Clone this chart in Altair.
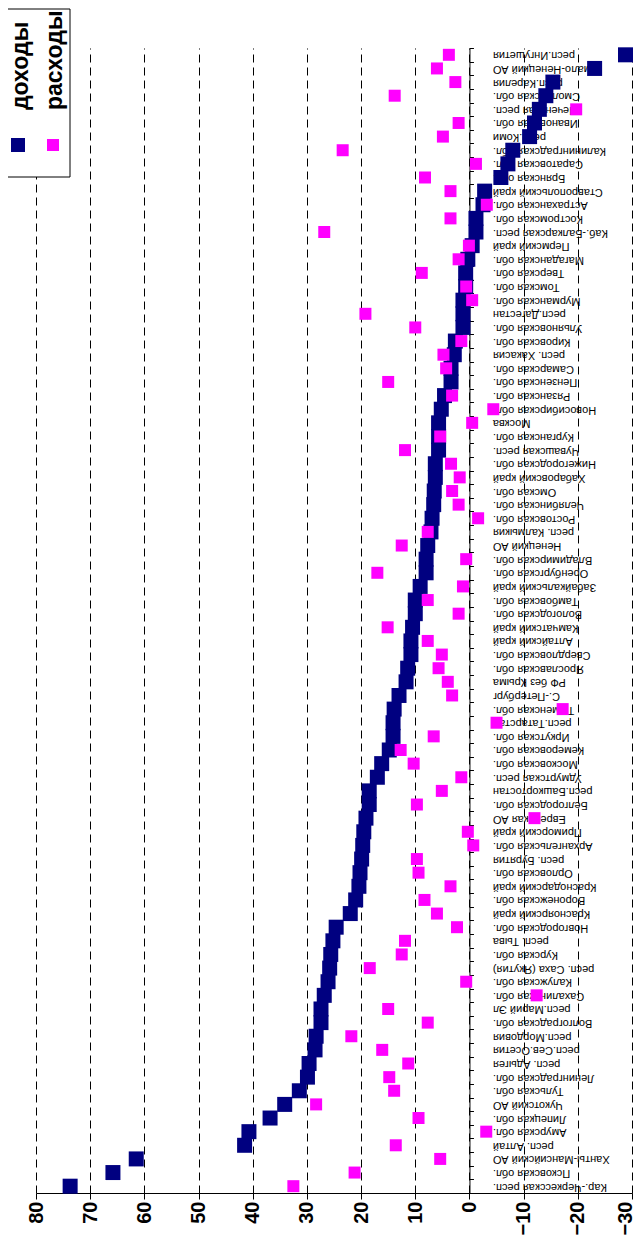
import altair as alt
import pandas as pd

regions = [
    "респ.Ингушетия", "Ямало-Ненецкий АО", "респ.Карелия", "Смоленская обл.",
    "Чеченская респ.", "Ивановская обл.", "респ.Коми", "Калининградская обл.",
    "Саратовская обл.", "Брянская обл.", "Ставропольский край", "Астраханская обл.",
    "Костромская обл.", "Каб.-Балкарская респ.", "Пермский край", "Магаданская обл.",
    "Тверская обл.", "Томская обл.", "Мурманская обл.", "респ.Дагестан",
    "Ульяновская обл.", "Кировская обл.", "респ. Хакасия", "Самарская обл.",
    "Пензенская обл.", "Рязанская обл.", "Новосибирская обл.", "Москва",
    "Курганская обл.", "Чувашская респ.", "Нижегородская обл.", "Хабаровский край",
    "Омская обл.", "Челябинская обл.", "Ростовская обл.", "респ. Калмыкия",
    "Ненецкий АО", "Владимирская обл.", "Оренбургская обл.", "Забайкальский край",
    "Тамбовская обл.", "Вологодская обл.", "Камчатский край", "Алтайский край",
    "Свердловская обл.", "Ярославская обл.", "РФ без Крыма", "С.-Петербург",
    "Тюменская обл.", "респ.Татарстан", "Иркутская обл.", "Кемеровская обл.",
    "Московская обл.", "Удмуртская респ.", "респ.Башкортостан", "Белгородская обл.",
    "Еврейская АО", "Приморский край", "Архангельская обл.", "респ. Бурятия",
    "Орловская обл.", "Краснодарский край", "Воронежская обл.", "Красноярский край",
    "Новгородская обл.", "респ. Тыва", "Курская обл.", "респ. Саха (Якутия)",
    "Калужская обл.", "Сахалинская обл.", "респ.Марий Эл", "Волгоградская обл.",
    "респ.Мордовия", "респ.Сев.Осетия", "респ. Адыгея", "Ленинградская обл.",
    "Тульская обл.", "Чукотский АО", "Липецкая обл.", "Амурская обл.",
    "респ. Алтай", "Ханты-Мансийский АО", "Псковская обл.", "Кар.-Черкесская респ.",
]

dohody = [
    -28.8, -23.1, -15.4, -14.1, -12.9, -12.0, -11.1, -8.0,
    -7.1, -5.8, -2.8, -2.5, -1.2, -1.2, -0.5, 0.3,
    0.7, 0.7, 1.2, 1.2, 1.2, 2.6, 2.8, 3.4,
    3.4, 4.6, 5.2, 5.7, 5.7, 5.7, 6.3, 6.3,
    6.5, 6.6, 6.9, 7.1, 7.7, 8.0, 8.0, 9.1,
    10.0, 10.0, 10.5, 10.8, 10.8, 11.4, 11.7, 13.0,
    13.9, 14.1, 14.1, 14.8, 16.2, 17.0, 18.5, 18.5,
    19.1, 19.5, 19.7, 19.9, 20.2, 20.4, 21.0, 22.0,
    24.6, 25.2, 25.6, 25.8, 26.1, 26.8, 27.4, 27.4,
    28.3, 28.5, 29.6, 29.9, 31.4, 34.1, 36.8, 40.7,
    41.5, 61.5, 65.8, 73.7,
]

rashody = [
    3.8, 6.0, 2.6, 13.8, -19.7, 2.0, 4.9, 23.4,
    -1.2, 8.2, 3.5, -3.2, 3.5, 26.8, 0.1, 2.0,
    8.8, 0.6, -0.5, 19.2, 10.0, 1.5, 4.8, 4.3,
    15.0, 3.2, -4.4, -0.5, 5.4, 11.9, 3.4, 1.8,
    3.2, 2.0, -1.6, 7.7, 12.5, 0.6, 17.0, 1.2,
    7.7, 2.0, 15.1, 7.7, 5.1, 5.7, 4.0, 3.2,
    -17.2, -5.0, 6.6, 12.7, 10.3, 1.5, 5.1, 9.7,
    -12.0, 0.3, -0.7, 9.7, 9.4, 3.5, 8.3, 6.0,
    2.3, 11.9, 12.5, 18.4, 0.6, -12.4, 15.0, 7.7,
    21.8, 16.1, 11.3, 14.8, 13.9, 28.3, 9.4, -3.1,
    13.6, 5.4, 21.2, 32.5,
]

tick_values = [80, 70, 60, 50, 40, 30, 20, 10, 0, -10, -20, -30]
series_names = ["доходы", "расходы"]
series_colors = ["#000080", "#FF00FF"]

df = pd.DataFrame({"region": regions, "dohody": dohody, "rashody": rashody})

W, H = 596, 1145
FONT = "Liberation Sans"

xscale = alt.Scale(domain=[-30, 80], reverse=True, nice=False, zero=False)
xaxis = alt.Axis(
    values=tick_values, format="d", title=None, orient="bottom",
    grid=True, gridDash=[8, 5], gridColor="black", gridOpacity=1, gridWidth=1,
    domainColor="black", tickColor="black", tickSize=6,
    labelAngle=270, labelFont=FONT, labelFontSize=20, labelFontWeight="bold",
    labelColor="black", labelPadding=2,
    labelOffset={"condition": {"test": "datum.value == -30", "value": -7}, "value": 0},
)
zero_px = (80 - 0) / 110 * W
yaxis = alt.Axis(
    orient="right", offset=-(W - zero_px), title=None, grid=False,
    domainColor="black", tickColor="black", tickSize=4, tickBand="extent",
    labelAngle=180, labelAlign="right", labelBaseline="middle",
    labelFont=FONT, labelFontSize=11, labelColor="black", labelPadding=19,
    labelOverlap=False, labelLimit=300,
)
yscale = alt.Scale(type="band", paddingInner=0, paddingOuter=0)

base = alt.Chart(df)
inc = base.mark_square(filled=True, size=225, opacity=1, color=series_colors[0]).encode(
    x=alt.X("dohody:Q", scale=xscale, axis=xaxis),
    y=alt.Y("region:N", sort=regions, scale=yscale, axis=yaxis),
)
exp = base.mark_square(filled=True, size=144, opacity=1, color=series_colors[1]).encode(
    x=alt.X("rashody:Q", scale=xscale, axis=xaxis),
    y=alt.Y("region:N", sort=regions, scale=yscale, axis=yaxis),
)

# legend (manual, rotated like the chart)
box_df = pd.DataFrame({"k": [0]})
legend_box = alt.Chart(box_df).mark_rect(fill="white", stroke="black", strokeWidth=1).encode(
    x=alt.value(-40), x2=alt.value(34), y=alt.value(-39), y2=alt.value(129)
)
leg_df = pd.DataFrame({"name": series_names, "color": series_colors,
                       "px": [-15, 19], "sx": [-18, 17], "ss": [196, 144]})
legend_text = alt.Chart(leg_df).mark_text(
    angle=270, align="left", baseline="middle", font=FONT, fontSize=23,
    fontWeight="bold", color="black",
).encode(
    x=alt.X("px:Q", scale=None, axis=None), y=alt.value(62), text="name:N"
)
legend_sym = alt.Chart(leg_df).mark_square(filled=True, opacity=1).encode(
    x=alt.X("sx:Q", scale=None, axis=None), y=alt.value(97),
    color=alt.Color("color:N", scale=None),
    size=alt.Size("ss:Q", scale=None),
)

chart = alt.layer(inc, exp, legend_box, legend_text, legend_sym).properties(
    width=W, height=H,
    autosize=alt.AutoSizeParams(type="none"),
    padding={"left": 28, "top": 40, "right": 4, "bottom": 42},
    background="white",
).configure_view(stroke=None)

chart.save("out.html", embed_options={"renderer": "svg", "actions": False})
